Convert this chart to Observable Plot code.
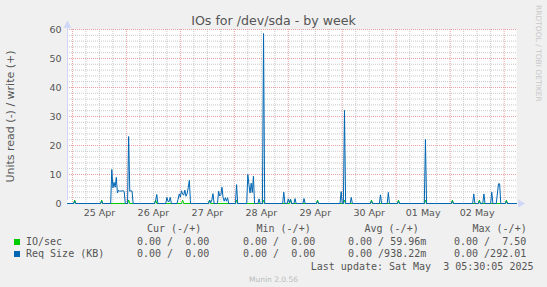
<!DOCTYPE html>
<html>
<head>
<meta charset="utf-8">
<script src="https://cdn.jsdelivr.net/npm/d3@7"></script>
<script src="https://cdn.jsdelivr.net/npm/@observablehq/plot@0.6"></script>
<style>
  html, body { margin: 0; padding: 0; background: #f0f0f0; }
  #wrap { position: relative; width: 547px; height: 287px; background: #f0f0f0; overflow: hidden; font-family: "DejaVu Sans", sans-serif; color: #555; }
  #chart { position: absolute; left: 0; top: 0; }
  .abs { position: absolute; white-space: pre; }
  .mono { font-family: "DejaVu Sans Mono", monospace; font-size: 10px; line-height: 12px; color: #555; }
  .sq { position: absolute; width: 6px; height: 6px; }
</style>
</head>
<body>
<div id="wrap">
  <div id="chart"></div>
  <div class="abs" id="title" style="left:0;width:547px;text-align:center;top:12.5px;font-size:12.6px;line-height:15px;color:#555">IOs for /dev/sda - by week</div>
  <div class="abs" id="rrd" style="left:534px;top:5px;font-size:7.5px;line-height:9px;color:#c8c8c8;transform-origin:0 0;transform:translate(9px,0) rotate(90deg)">RRDTOOL / TOBI OETIKER</div>
  <div id="legend"></div>
  <div class="abs mono" id="lastupd" style="right:13.5px;top:260.5px">Last update: Sat May  3 05:30:05 2025</div>
  <div class="abs" id="munin" style="left:0;width:547px;text-align:center;top:275.2px;font-size:7.5px;line-height:9px;color:#bbb">Munin 2.0.56</div>
</div>
<script>
// ---- data (hours since 25 Apr 2025 00:00) ----
const dayLabels = ["25 Apr", "26 Apr", "27 Apr", "28 Apr", "29 Apr", "30 Apr", "01 May", "02 May"];
const dayLabelHours = [12, 36, 60, 84, 108, 132, 156, 180];
const timeDomain = [-2.2, 197.5];
const yTicks = [0, 10, 20, 30, 40, 50, 60];

// IO/sec (write, +)
const ioSec = [
  [-2.2, 0],
  [0.5, 0], [1, 1.2], [1.5, 0],
  [12.5, 0], [13, 1.2], [13.5, 0],
  [24.5, 0], [25, 1.2], [25.5, 0],
  [36.5, 0], [37, 1.2], [37.5, 0],
  [48.5, 0], [49, 1.2], [49.5, 0],
  [60.5, 0], [61, 1.2], [61.5, 0],
  [72.5, 0], [73, 1.2], [73.5, 0],
  [84.5, 0], [85, 1.2], [85.5, 0],
  [96.5, 0], [97, 1.2], [97.5, 0],
  [108.5, 0], [109, 1.2], [109.5, 0],
  [120.5, 0], [121, 1.2], [121.5, 0],
  [132.5, 0], [133, 1.2], [133.5, 0],
  [144.5, 0], [145, 1.2], [145.5, 0],
  [156.5, 0], [157, 1.2], [157.5, 0],
  [168.5, 0], [169, 1.2], [169.5, 0],
  [180.5, 0], [181, 1.2], [181.5, 0],
  [192.5, 0], [193, 1.2], [193.5, 0],
  [197.5, 0]
];

// Req Size (KB) (write, +)
const reqSize = [
  [-2.2, 0],
  [0.5, 0], [1, 0.8], [1.5, 0],
  [12.5, 0], [13, 0.8], [13.5, 0],
  [17, 0], [17.5, 11.7], [18, 5.4], [18.5, 7.3], [19, 5.6], [19.5, 9.0], [20, 3.6], [20.5, 4.6],
  [21, 4.2], [21.5, 4.3], [22, 4.3], [22.5, 4.4], [23, 4.2], [23.5, 0],
  [24.5, 0], [25, 23.1], [25.5, 4.2], [26, 4.4], [26.5, 4.3], [27, 0],
  [36.5, 0], [37, 1.0], [37.5, 3.1], [38, 0],
  [41.5, 0], [42, 2.1], [42.5, 0.7], [43, 0.7], [43.5, 2.1], [44, 0],
  [46.5, 0], [47, 1.5], [47.5, 3.3], [48, 2.2], [48.5, 4.4], [49, 3.2], [49.5, 2.9], [50, 4.6],
  [50.5, 2.5], [51, 3.4], [51.5, 5.5], [52, 8.0], [52.5, 0],
  [60.5, 0], [61, 1.2], [61.5, 0.3], [62, 1.2], [62.5, 3.4], [63, 0],
  [64.5, 0], [65, 4.2], [65.5, 2.6], [66, 3.0], [66.5, 5.6], [67, 2.0], [67.5, 0.8], [68, 2.0],
  [68.5, 0.8], [69, 2.0], [69.5, 0],
  [72.5, 0], [73, 6.5], [73.5, 0],
  [77.5, 0], [78, 10.0], [78.5, 6.5], [79, 3.6], [79.5, 7.0], [80, 3.8], [80.5, 9.4], [81, 0],
  [82.5, 0], [83, 1.6], [83.5, 0],
  [84.5, 0], [85, 58.6], [85.5, 0],
  [93.5, 0], [94, 3.9], [94.5, 0],
  [95.5, 0], [96, 1.6], [96.5, 0.3], [97, 1.5], [97.5, 0],
  [98.5, 0], [99, 1.7], [99.5, 0],
  [102.5, 0], [103, 1.7], [103.5, 0],
  [108.5, 0], [109, 0.8], [109.5, 0],
  [119, 0], [119.5, 4.1], [120, 0], [120.5, 0], [121, 32.1], [121.5, 0],
  [123.5, 0], [124, 2.1], [124.5, 0],
  [132.5, 0], [133, 0.8], [133.5, 0],
  [136.5, 0], [137, 3.0], [137.5, 0],
  [140, 0], [140.5, 3.8], [141, 0],
  [144.5, 0], [145, 0.8], [145.5, 0],
  [156.5, 0], [157, 22.1], [157.5, 0],
  [168.5, 0], [169, 0.8], [169.5, 0],
  [178, 0], [178.5, 3.3], [179, 0],
  [180.5, 0], [181, 0.8], [181.5, 0],
  [182.5, 0], [183, 3.3], [183.5, 0],
  [186, 0], [186.5, 3.9], [187, 0],
  [188.5, 0], [189.5, 6.8], [190, 6.8], [190.5, 0],
  [192.5, 0], [193, 0.8], [193.5, 0],
  [197.5, 0]
];

// legend
const seriesNames = ["IO/sec", "Req Size (KB)"];
const seriesColors = ["#00cc00", "#0066b3"];
const statHeaders = ["Cur (-/+)", "Min (-/+)", "Avg (-/+)", "Max (-/+)"];
const statValues = [
  ["0.00 /  0.00", "0.00 /  0.00", "0.00 / 59.96m", "0.00 /  7.50"],
  ["0.00 /  0.00", "0.00 /  0.00", "0.00 /938.22m", "0.00 /292.01"]
];

// ---- grid helpers ----
const yMax = yTicks[yTicks.length - 1];
const majorY = yTicks.filter(d => d > 0);
const minorY = d3.range(2, yMax, 2).filter(d => d % 10 !== 0);
const midnights = d3.range(0, timeDomain[1], 24);
const minorX = d3.range(6, timeDomain[1], 6).filter(d => d % 24 !== 0);
const labelMap = new Map(dayLabelHours.map((h, i) => [h, dayLabels[i]]));
const axisCol = "#cfd6f8";

const chart = Plot.plot({
  width: 547,
  height: 220,
  marginLeft: 67,
  marginRight: 31,
  marginTop: 29,
  marginBottom: 17,
  style: { background: "transparent", fontFamily: "DejaVu Sans", fontSize: "9.5px", color: "#555" },
  x: { domain: timeDomain },
  y: { domain: [0, yMax] },
  marks: [
    Plot.frame({ fill: "white", stroke: null }),
    Plot.ruleY(minorY, { stroke: "#c8c8c8", strokeDasharray: "1,1" }),
    Plot.ruleX(minorX, { stroke: "#c8c8c8", strokeDasharray: "1,1" }),
    Plot.ruleY(majorY, { stroke: "#e8a0a0", strokeDasharray: "1,1" }),
    Plot.ruleX(midnights, { stroke: "#e8a0a0", strokeDasharray: "1,1" }),
    // axes lines with arrows
    Plot.ruleX([timeDomain[0]], { y1: 0, y2: yMax, stroke: axisCol, dy: -3, strokeWidth: 1 }),
    Plot.dot([[timeDomain[0], yMax]], { x: d => d[0], y: d => d[1], symbol: "triangle", r: 3, fill: axisCol, stroke: null, dy: -4 }),
    Plot.ruleY([0], { stroke: axisCol }),
    Plot.dot([[timeDomain[1], 0]], { x: d => d[0], y: d => d[1], symbol: "triangle", r: 3, fill: axisCol, stroke: null, rotate: 90, dx: 4 }),
    // series
    Plot.line(ioSec, { x: d => d[0], y: d => d[1], stroke: seriesColors[0], strokeWidth: 1 }),
    Plot.line(reqSize, { x: d => d[0], y: d => d[1], stroke: seriesColors[1], strokeWidth: 1 }),
    // axes
    Plot.axisY({ ticks: yTicks, tickSize: 0, tickPadding: 6, label: null }),
    Plot.axisX({ ticks: dayLabelHours, tickFormat: d => labelMap.get(d), tickSize: 0, tickPadding: 6, label: null }),
    Plot.text(["Units read (-) / write (+)"], { frameAnchor: "left", textAnchor: "middle", lineAnchor: "middle", dx: -57, rotate: -90, fontSize: 11, fill: "#555" })
  ]
});
document.getElementById("chart").appendChild(chart);

// legend (HTML, monospace like rrdtool)
const legend = document.getElementById("legend");
const headerLefts = [147, 256.5, 364.5, 472.5];
const valueLefts = [137, 243, 348, 454];
const rowTops = [235.7, 248.3];
statHeaders.forEach((h, i) => {
  const el = document.createElement("div");
  el.className = "abs mono";
  el.style.left = headerLefts[i] + "px";
  el.style.top = "222.8px";
  el.textContent = h;
  legend.appendChild(el);
});
seriesNames.forEach((name, r) => {
  const sq = document.createElement("div");
  sq.className = "sq";
  sq.style.left = "14px";
  sq.style.top = (rowTops[r] + 2.8) + "px";
  sq.style.background = seriesColors[r];
  legend.appendChild(sq);
  const nm = document.createElement("div");
  nm.className = "abs mono";
  nm.style.left = "26px";
  nm.style.top = rowTops[r] + "px";
  nm.textContent = name;
  legend.appendChild(nm);
  statValues[r].forEach((v, c) => {
    const el = document.createElement("div");
    el.className = "abs mono";
    el.style.left = valueLefts[c] + "px";
    el.style.top = rowTops[r] + "px";
    el.textContent = v;
    legend.appendChild(el);
  });
});
</script>
</body>
</html>
